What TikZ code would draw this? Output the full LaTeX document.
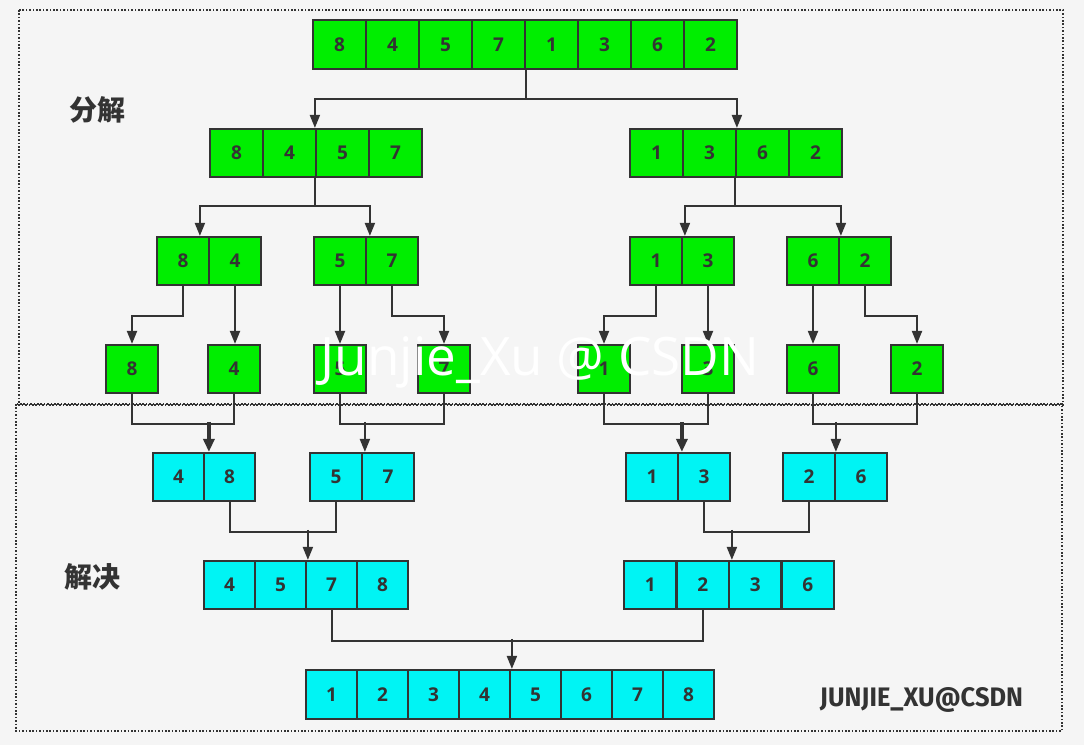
\documentclass[tikz,border=0pt]{standalone}
\usepackage{fontspec}
\setmainfont{Open Sans}
\newfontfamily\cjk{Noto Sans CJK SC}
\newfontfamily\fira{Fira Sans}
\usetikzlibrary{arrows.meta}
\definecolor{bgc}{HTML}{F5F5F5}
\definecolor{ink}{HTML}{333333}
\definecolor{gcell}{HTML}{00EE00}
\definecolor{ccell}{HTML}{00F4F4}
\tikzset{
  cellbox/.style={draw=ink, line width=2.2pt, text=ink, inner sep=0pt,
    font=\fontsize{19}{22}\selectfont\bfseries},
  gbox/.style={cellbox, fill=gcell},
  cbox/.style={cellbox, fill=ccell},
  conn/.style={draw=ink, line width=2pt},
  arr/.style={conn, -{Triangle[length=13pt,width=10pt]}},
  thickarr/.style={arr, line width=3.5pt, -{Triangle[length=13pt,width=11pt]}},
  framebox/.style={draw=ink, line width=1.6pt, dash pattern=on 1.6pt off 1.8pt},
  sidelabel/.style={text=ink, font=\cjk\bfseries\fontsize{28}{32}\selectfont},
}
% #1 name prefix, #2 x0, #3 y0, #4 cell width, #5 height, #6 style, #7 labels
\newcommand{\mkrow}[7]{%
  \foreach \lab [count=\i] in {#7} {
    \node[#6, minimum width=#4pt, minimum height=#5pt] (#1\i)
      at ({#2+(\i-0.5)*#4}, {#3+#5/2}) {\lab};
  }%
}
\begin{document}
\begin{tikzpicture}[x=1pt,y=-1pt]
\fill[bgc] (0,0) rectangle (1084,745);
\useasboundingbox (0,0) rectangle (1084,745);
\draw[framebox] (19,10) rectangle (1063,405);
\draw[framebox] (16,404) rectangle (1062,731);

% rows
\mkrow{r1c}{313}{20}{53}{49}{gbox}{8,4,5,7,1,3,6,2}
\mkrow{r2a}{210}{129}{53}{48}{gbox}{8,4,5,7}
\mkrow{r2b}{630}{129}{53}{48}{gbox}{1,3,6,2}
\mkrow{r3a}{157}{237}{52}{48}{gbox}{8,4}
\mkrow{r3b}{314}{237}{52}{48}{gbox}{5,7}
\mkrow{r3c}{630}{237}{52}{48}{gbox}{1,3}
\mkrow{r3d}{787}{237}{52}{48}{gbox}{6,2}
\mkrow{r4a}{106}{345}{52}{48}{gbox}{8}
\mkrow{r4b}{208}{345}{52}{48}{gbox}{4}
\mkrow{r4c}{314}{345}{52}{48}{gbox}{5}
\mkrow{r4d}{418}{345}{52}{48}{gbox}{7}
\mkrow{r4e}{578}{345}{52}{48}{gbox}{1}
\mkrow{r4f}{682}{345}{52}{48}{gbox}{3}
\mkrow{r4g}{787}{345}{52}{48}{gbox}{6}
\mkrow{r4h}{891}{345}{52}{48}{gbox}{2}
\mkrow{r5a}{153}{453}{51}{48}{cbox}{4,8}
\mkrow{r5b}{310}{453}{52}{48}{cbox}{5,7}
\mkrow{r5c}{626}{453}{52}{48}{cbox}{1,3}
\mkrow{r5d}{783}{453}{52}{48}{cbox}{2,6}
\mkrow{r6a}{204}{561}{51}{48}{cbox}{4,5,7,8}
\mkrow{r6b}{624}{561}{52.5}{48}{cbox}{1,2,3,6}
\mkrow{r7c}{306}{670}{51}{49}{cbox}{1,2,3,4,5,6,7,8}

% split: row1 -> row2
\draw[arr] ([xshift=2pt]r1c5.south west) -- ++(0,29) -| (r2a3.north west);
\draw[arr] ([xshift=2pt]r1c5.south west) -- ++(0,29) -| ([xshift=2pt]r2b3.north west);
% row2 -> row3
\draw[arr] (r2a3.south west) -- ++(0,28) -| ([xshift=-8pt]r3a2.north west);
\draw[arr] (r2a3.south west) -- ++(0,28) -| ([xshift=5pt]r3b2.north west);
\draw[arr] (r2b3.south west) -- ++(0,28) -| ([xshift=4pt]r3c2.north west);
\draw[arr] (r2b3.south west) -- ++(0,28) -| ([xshift=3pt]r3d2.north west);
% row3 -> row4
\draw[arr] (r3a1.south) -- ++(0,30) -| (r4a1.north);
\draw[arr] (r3a2.south) -- (r3a2.south |- r4b1.north);
\draw[arr] (r3b1.south) -- (r4c1.north);
\draw[arr] (r3b2.south) -- ++(0,30) -| (r4d1.north);
\draw[arr] (r3c1.south) -- ++(0,30) -| (r4e1.north);
\draw[arr] (r3c2.south) -- (r4f1.north);
\draw[arr] (r3d1.south) -- (r4g1.north);
\draw[arr] (r3d2.south) -- ++(0,30) -| (r4h1.north);

% merge: row4 -> row5
\draw[conn] (r4a1.south) -- ++(0,30) -| (r4b1.south);
\draw[thickarr] ([xshift=6pt,yshift=30pt]r5a2.north west) -- ([xshift=6pt]r5a2.north west);
\draw[conn] (r4c1.south) -- ++(0,30) -| (r4d1.south);
\draw[arr] ([xshift=4pt,yshift=30pt]r5b2.north west) -- ([xshift=4pt]r5b2.north west);
\draw[conn] (r4e1.south) -- ++(0,30) -| (r4f1.south);
\draw[thickarr] ([xshift=5pt,yshift=30pt]r5c2.north west) -- ([xshift=5pt]r5c2.north west);
\draw[conn] (r4g1.south) -- ++(0,30) -| (r4h1.south);
\draw[arr] ([xshift=2pt,yshift=30pt]r5d2.north west) -- ([xshift=2pt]r5d2.north west);
% row5 -> row6
\draw[conn] (r5a2.south) -- ++(0,30) -| (r5b1.south);
\draw[arr] ([xshift=3pt,yshift=30pt]r6a3.north west) -- ([xshift=3pt]r6a3.north west);
\draw[conn] (r5c2.south) -- ++(0,30) -| (r5d1.south);
\draw[arr] ([xshift=4pt,yshift=30pt]r6b3.north west) -- ([xshift=4pt]r6b3.north west);
% row6 -> row7
\draw[conn] (r6a3.south) -- ++(0,31) -| (r6b2.south);
\draw[arr] ([xshift=3pt,yshift=30pt]r7c5.north west) -- ([xshift=3pt]r7c5.north west);

% labels
\node[sidelabel] (lsplit) at (97,110) {分解};
\node[sidelabel] (lmerge) at (92,577) {解决};
\node[text=white, anchor=base, font=\fontsize{53}{62}\selectfont] (wm) at (540,375) {Junjie\_Xu @ CSDN};
\node[text=ink, anchor=base, inner sep=0pt, font=\fira\bfseries] (sig) at (921.5,706)
  {\resizebox{203pt}{19pt}{JUNJIE\_XU@CSDN}};
\end{tikzpicture}
\end{document}
